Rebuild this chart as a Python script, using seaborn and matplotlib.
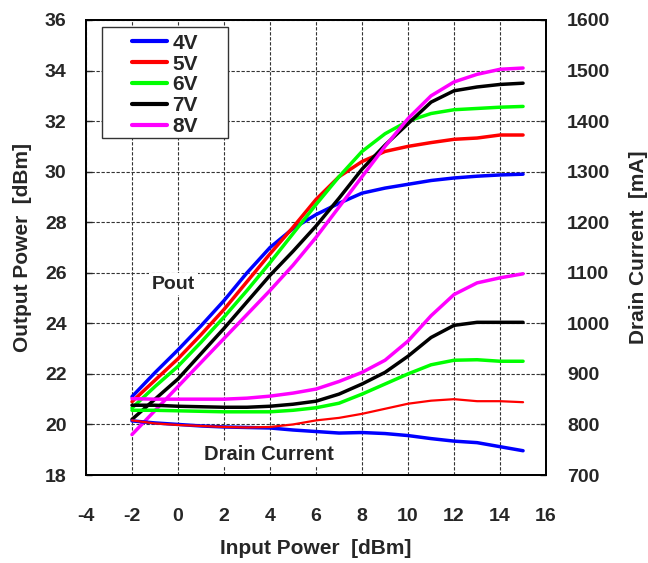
import pandas as pd
import matplotlib
matplotlib.use("Agg")
import matplotlib.pyplot as plt
from matplotlib.patches import Rectangle
import seaborn as sns

# input power sweep [dBm]
pin = [-2, -1, 0, 1, 2, 3, 4, 5, 6, 7, 8, 9, 10, 11, 12, 13, 14, 15]

# output power [dBm] per drain voltage
pout_4v = [21.1, 22.05, 22.95, 23.9, 24.9, 26.0, 27.0, 27.75, 28.3, 28.75, 29.15, 29.35, 29.5, 29.65, 29.75, 29.82, 29.87, 29.9]
pout_5v = [20.9, 21.75, 22.6, 23.55, 24.55, 25.65, 26.75, 27.8, 28.9, 29.8, 30.4, 30.8, 31.0, 31.15, 31.28, 31.33, 31.45, 31.45]
pout_6v = [20.65, 21.5, 22.3, 23.25, 24.25, 25.3, 26.4, 27.55, 28.7, 29.8, 30.8, 31.5, 32.0, 32.3, 32.45, 32.5, 32.55, 32.58]
pout_7v = [20.2, 21.0, 21.8, 22.8, 23.8, 24.85, 25.9, 26.85, 27.85, 28.95, 30.1, 31.05, 31.9, 32.75, 33.2, 33.35, 33.45, 33.5]
pout_8v = [19.6, 20.55, 21.5, 22.45, 23.4, 24.35, 25.3, 26.3, 27.4, 28.6, 29.8, 31.0, 32.1, 33.0, 33.55, 33.85, 34.05, 34.1]

# drain current [mA] per drain voltage
idd_4v = [807, 803, 800, 797, 795, 794, 793, 789, 786, 783, 784, 782, 778, 772, 767, 764, 756, 748]
idd_5v = [808, 802, 799, 797, 795, 794, 795, 800, 808, 813, 821, 831, 841, 847, 850, 846, 846, 844]
idd_6v = [828, 828, 827, 826, 825, 825, 825, 828, 833, 842, 860, 880, 900, 918, 927, 928, 925, 925]
idd_7v = [838, 838, 836, 835, 834, 834, 836, 840, 846, 860, 880, 903, 935, 972, 996, 1002, 1002, 1002]
idd_8v = [851, 850, 850, 850, 850, 852, 856, 862, 870, 885, 903, 927, 965, 1015, 1057, 1080, 1090, 1098]

voltages = ["4V", "5V", "6V", "7V", "8V"]
colores = ["#0000ff", "#ff0000", "#00ff00", "#000000", "#ff00ff"]

pout_all = [pout_4v, pout_5v, pout_6v, pout_7v, pout_8v]
idd_all = [idd_4v, idd_5v, idd_6v, idd_7v, idd_8v]

df_pout = pd.concat([pd.DataFrame({"Pin": pin, "Pout": p, "Vd": v}) for p, v in zip(pout_all, voltages)])
df_idd = pd.concat([pd.DataFrame({"Pin": pin, "Idd": i, "Vd": v}) for i, v in zip(idd_all, voltages)])

sns.set_style("white")
plt.rcParams['font.family'] = ['Liberation Sans', 'DejaVu Sans']
plt.rcParams['font.weight'] = 'bold'
plt.rcParams['axes.labelweight'] = 'bold'
plt.rcParams['axes.unicode_minus'] = False

fig = plt.figure(figsize=(6.48, 5.63), dpi=100)
ax = fig.add_axes([0.1327, 0.1563, 0.7100, 0.8082])
ax2 = ax.twinx()

paleta = dict(zip(voltages, colores))
sns.lineplot(data=df_pout, x="Pin", y="Pout", hue="Vd", palette=paleta, linewidth=2.5, ax=ax)
sns.lineplot(data=df_idd, x="Pin", y="Idd", hue="Vd", palette=paleta, linewidth=2.5, ax=ax2, legend=False)
for linea in ax2.get_lines():
    if linea.get_color() == "#ff0000":
        linea.set_linewidth(1.6)

ax.set_xlim(-4, 16)
ax.set_ylim(18, 36)
ax2.set_ylim(700, 1600)
ax.set_xticks(range(-4, 17, 2))
ax.set_yticks(range(18, 37, 2))
ax2.set_yticks(range(700, 1601, 100))

ax.grid(True, linestyle=(0, (3, 1.5)), color="#333333", linewidth=0.8)
ax.set_axisbelow(True)

ax.set_xlabel("Input Power  [dBm]", fontsize=15, fontweight="bold")
ax.set_ylabel("Output Power  [dBm]", fontsize=15, fontweight="bold")
ax2.set_ylabel("Drain Current  [mA]", fontsize=15, fontweight="bold")
ax.xaxis.set_label_coords(0.5, -0.14)
ax.yaxis.set_label_coords(-0.118, 0.5)
ax2.yaxis.set_label_coords(1.18, 0.5)

for a in (ax, ax2):
    a.tick_params(direction="in", length=4, width=1, labelsize=14)
    for lab in a.get_xticklabels() + a.get_yticklabels():
        lab.set_fontweight("bold")
    for s in a.spines.values():
        s.set_linewidth(1.3)
        s.set_color("black")
ax.tick_params(axis="x", pad=24)
ax.tick_params(axis="y", pad=14)
ax2.tick_params(axis="y", pad=15)

ax.text(-0.2, 25.55, "Pout", fontsize=14, fontweight="bold", ha="center", va="center",
        bbox=dict(facecolor="white", edgecolor="none", pad=2))
ax.text(3.96, 18.83, "Drain Current", fontsize=14.5, fontweight="bold", ha="center", va="center",
        bbox=dict(facecolor="white", edgecolor="none", pad=2))

# legend: frameless entries inside a plain box
ax.add_patch(Rectangle((0.0348, 0.7407), 0.2739, 0.2439, transform=ax.transAxes,
                       facecolor="white", edgecolor="#333333", linewidth=1.0, zorder=5))
handles, labels = ax.get_legend_handles_labels()
leg = ax.legend(handles, labels, loc="upper left", bbox_to_anchor=(0.1, 0.97),
                fontsize=15, frameon=False, handlelength=1.7, handletextpad=0.25,
                labelspacing=0.09, borderpad=0, borderaxespad=0)
leg.set_zorder(6)
for t in leg.get_texts():
    t.set_fontweight("bold")
for h in leg.get_lines():
    h.set_linewidth(3)

ax2.set_zorder(ax.get_zorder() + 1)
ax2.patch.set_visible(False)

fig.savefig("out.png", dpi=100)
